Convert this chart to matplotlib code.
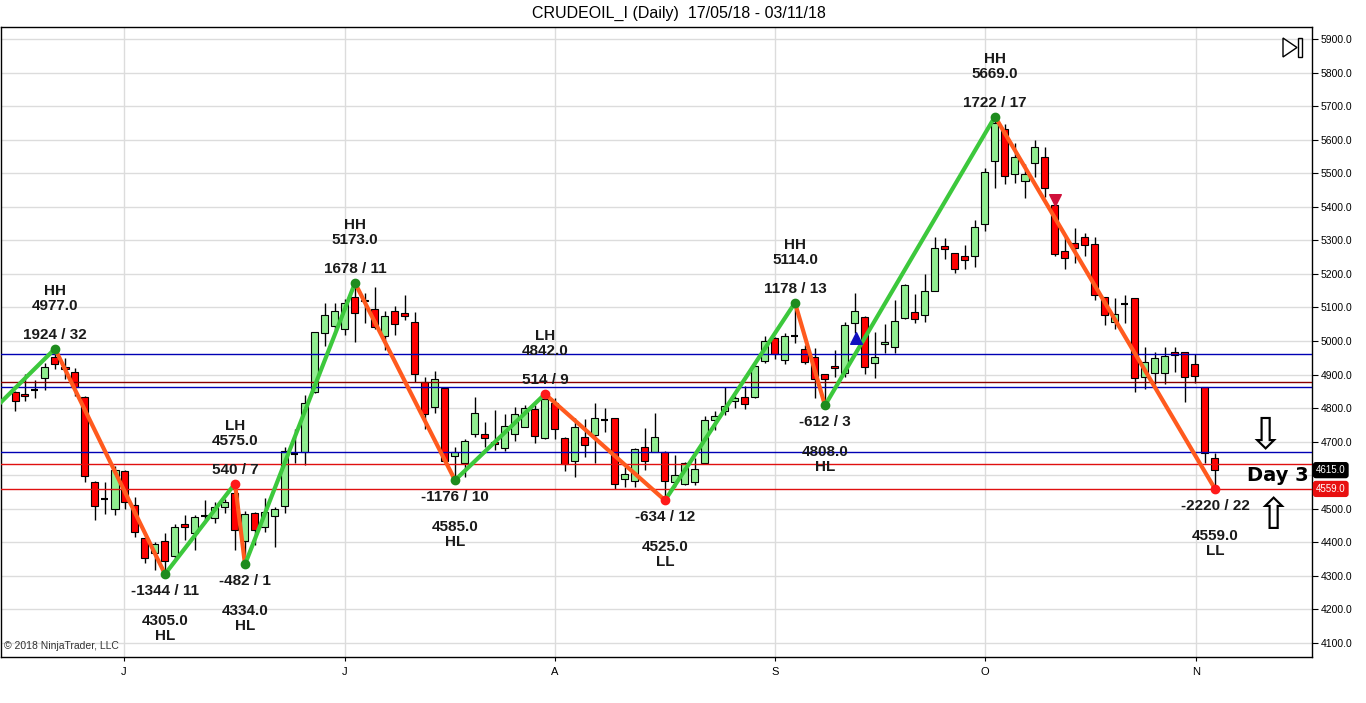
import numpy as np
import matplotlib
matplotlib.use("Agg")
import matplotlib.pyplot as plt
from matplotlib.patches import Polygon, Rectangle

plt.rcParams['font.family'] = ['Liberation Sans', 'DejaVu Sans']

# daily OHLC, bar 0 = first bar on screen
opens = [4847, 4841, 4855, 4891, 4951, 4922, 4907, 4832, 4581, 4528,
         4499, 4612, 4510, 4412, 4369, 4404, 4360, 4455, 4427, 4478,
         4472, 4504, 4546, 4405, 4488, 4447, 4479, 4508, 4662, 4670,
         4847, 5023, 5046, 5037, 5132, 5120, 5095, 5014, 5090, 5083,
         5058, 4877, 4804, 4861, 4657, 4636, 4722, 4722, 4698, 4680,
         4722, 4745, 4796, 4711, 4816, 4712, 4643, 4713, 4719, 4763,
         4769, 4588, 4584, 4683, 4670, 4670, 4581, 4574, 4581, 4636,
         4765, 4792, 4820, 4832, 4834, 4940, 5010, 4943, 5015, 4975,
         4951, 4901, 4926, 4906, 5053, 5073, 4933, 4990, 4983, 5068,
         5086, 5077, 5150, 5284, 5261, 5253, 5253, 5348, 5537, 5631,
         5498, 5477, 5530, 5547, 5405, 5269, 5291, 5311, 5288, 5130,
         5058, 5110, 5127, 4892, 4906, 4904, 4966, 4966, 4932, 4862,
         4650]
highs = [4850, 4901, 4884, 4934, 4977, 4948, 4919, 4835, 4583, 4579,
         4628, 4616, 4534, 4414, 4400, 4429, 4455, 4482, 4482, 4526,
         4520, 4530, 4575, 4494, 4490, 4531, 4504, 4685, 4737, 4839,
         4850, 5112, 5112, 5124, 5173, 5144, 5162, 5089, 5103, 5137,
         5087, 4894, 4912, 4863, 4685, 4707, 4834, 4760, 4794, 4782,
         4803, 4810, 4810, 4842, 4830, 4714, 4770, 4767, 4814, 4800,
         4771, 4625, 4680, 4740, 4785, 4672, 4660, 4640, 4652, 4777,
         4792, 4862, 4835, 4866, 4928, 5015, 5012, 5023, 5114, 4988,
         4978, 4903, 4973, 5058, 5144, 5075, 5028, 5051, 5122, 5170,
         5139, 5200, 5309, 5306, 5263, 5286, 5361, 5515, 5669, 5647,
         5591, 5527, 5599, 5577, 5410, 5316, 5336, 5321, 5311, 5132,
         5127, 5137, 5129, 4981, 4968, 4981, 4981, 4968, 4961, 4864,
         4667]
lows = [4792, 4822, 4829, 4854, 4916, 4886, 4836, 4581, 4465, 4485,
        4482, 4499, 4417, 4339, 4316, 4305, 4350, 4407, 4377, 4457,
        4457, 4488, 4377, 4334, 4392, 4432, 4387, 4488, 4637, 4630,
        4845, 4985, 5033, 5018, 4998, 5053, 5035, 4973, 5018, 5063,
        4879, 4738, 4785, 4640, 4585, 4596, 4715, 4685, 4675, 4672,
        4703, 4744, 4697, 4709, 4707, 4611, 4594, 4655, 4636, 4730,
        4558, 4566, 4566, 4616, 4668, 4525, 4566, 4570, 4571, 4634,
        4735, 4780, 4800, 4797, 4831, 4933, 4945, 4931, 4993, 4931,
        4829, 4808, 4894, 4892, 5023, 4902, 4889, 4965, 4963, 5066,
        5055, 5058, 5148, 5244, 5202, 5214, 5221, 5328, 5457, 5468,
        5470, 5425, 5490, 5430, 5253, 5214, 5233, 5253, 5122, 5048,
        5036, 5055, 4849, 4856, 4872, 4872, 4909, 4819, 4874, 4636,
        4559]
closes = [4822, 4836, 4855, 4922, 4931, 4916, 4864, 4599, 4509, 4528,
          4614, 4519, 4430, 4353, 4395, 4344, 4445, 4447, 4475, 4478,
          4506, 4519, 4437, 4484, 4437, 4490, 4498, 4673, 4662, 4816,
          5028, 5077, 5089, 5112, 5083, 5123, 5041, 5075, 5051, 5075,
          4902, 4783, 4886, 4642, 4670, 4702, 4785, 4711, 4692, 4747,
          4782, 4801, 4717, 4826, 4738, 4632, 4745, 4689, 4770, 4763,
          4574, 4604, 4677, 4643, 4714, 4584, 4600, 4636, 4618, 4765,
          4777, 4806, 4830, 4812, 4926, 5001, 4961, 5015, 5015, 4938,
          4886, 4886, 4920, 5047, 5089, 4922, 4951, 4996, 5060, 5167,
          5065, 5148, 5276, 5273, 5214, 5240, 5339, 5503, 5649, 5492,
          5547, 5498, 5577, 5455, 5259, 5246, 5276, 5286, 5137, 5078,
          5080, 5110, 4889, 4938, 4948, 4955, 4958, 4892, 4896, 4665,
          4615]

# zigzag swing points (first one is where the line enters from off-screen)
zz_bar = [-2, 4, 15, 22, 23, 34, 44, 53, 65, 78, 81, 98, 120]
zz_price = [4800, 4977, 4305, 4575, 4334, 5173, 4585, 4842, 4525, 5114, 4808, 5669, 4559]
zz_swing = ["1924 / 32", "-1344 / 11", "540 / 7", "-482 / 1", "1678 / 11", "-1176 / 10",
            "514 / 9", "-634 / 12", "1178 / 13", "-612 / 3", "1722 / 17", "-2220 / 22"]
zz_type = ["HH", "HL", "LH", "HL", "HH", "HL", "LH", "LL", "HH", "HL", "HH", "LL"]

# horizontal levels
blue_levels = [4961, 4862, 4668]
maroon_levels = [4877]
red_levels = [4633, 4559]

month_pos = [10.9, 33, 54, 76, 97, 118.1]
month_lbl = ["J", "J", "A", "S", "O", "N"]
y_ticks = np.arange(4100, 5901, 100)
# 4600 label sits behind the price tags
y_lbls = ["" if v == 4600 else "%.1f" % v for v in y_ticks]

o = np.array(opens)
h = np.array(highs)
l = np.array(lows)
c = np.array(closes)
idx = np.arange(len(o))

fig = plt.figure(figsize=(13.66, 7.03), dpi=100)
ax = fig.add_axes([1 / 1366, 46 / 703, 1311 / 1366, 630 / 703])
ax.set_xlim(-1.4, 129.7)
ax.set_ylim(4058, 5936)

# grid
for v in y_ticks:
    ax.axhline(v, color='#dcdcdc', lw=1, zorder=0)
for p in month_pos:
    ax.axvline(p, color='#dcdcdc', lw=1, zorder=0)

# candles
ax.vlines(idx, l, h, color='black', lw=1, zorder=2)
up = c > o
dn = c < o
ax.bar(idx[up], (c - o)[up], bottom=o[up], width=0.7, color='#90ee90',
       edgecolor='black', lw=0.8, zorder=3)
ax.bar(idx[dn], (o - c)[dn], bottom=c[dn], width=0.7, color='#ff0000',
       edgecolor='black', lw=0.8, zorder=3)
flat = c == o
ax.hlines(o[flat], idx[flat] - 0.35, idx[flat] + 0.35, color='black', lw=1.5, zorder=3)

# level lines
for v in blue_levels:
    ax.axhline(v, color='#0000b4', lw=1, zorder=4)
for v in maroon_levels:
    ax.axhline(v, color='#8b0000', lw=1, zorder=4)
for v in red_levels:
    ax.axhline(v, color='#e01010', lw=1, zorder=4)

# zigzag
for k in range(len(zz_bar) - 1):
    col = '#3cc83c' if zz_price[k + 1] > zz_price[k] else '#ff5a1e'
    ax.plot(zz_bar[k:k + 2], zz_price[k:k + 2], color=col, lw=3, zorder=5,
            solid_capstyle='round')

for k in range(1, len(zz_bar)):
    t = zz_type[k - 1]
    dot = '#1e8c1e' if t in ("HH", "HL") else '#ff1a1a'
    ax.scatter(zz_bar[k], zz_price[k], s=36, color=dot, zorder=6)
    is_high = zz_price[k] > zz_price[k - 1]
    kw = dict(xycoords='data', textcoords='offset pixels', ha='center', va='center',
              fontsize=11, fontweight='bold', color='#1a1a1a', zorder=7)
    pos = (zz_bar[k], zz_price[k])
    if is_high:
        ax.annotate(zz_swing[k - 1], pos, xytext=(0, 14), **kw)
        ax.annotate("%.1f" % zz_price[k], pos, xytext=(0, 43), **kw)
        ax.annotate(t, pos, xytext=(0, 58), **kw)
    else:
        ax.annotate(zz_swing[k - 1], pos, xytext=(0, -17), **kw)
        ax.annotate("%.1f" % zz_price[k], pos, xytext=(0, -47), **kw)
        ax.annotate(t, pos, xytext=(0, -62), **kw)

# signal markers
ax.scatter([84.1], [5008], marker='^', s=70, color='#1010c0', zorder=6)
ax.scatter([104], [5420], marker='v', s=70, color='#d0103a', zorder=6)

# axes styling
ax.yaxis.tick_right()
ax.set_yticks(y_ticks)
ax.set_yticklabels(y_lbls, fontsize=7.5)
ax.set_xticks(month_pos)
ax.set_xticklabels(month_lbl, fontsize=8)
ax.tick_params(axis='y', length=4, pad=2, colors='black')
ax.tick_params(axis='x', length=3, pad=4)
for s in ax.spines.values():
    s.set_color('black')
    s.set_linewidth(1)

# price tags
ax.text(1.003, closes[-1], "%.1f" % closes[-1], transform=ax.get_yaxis_transform(),
        fontsize=7, color='white', va='center', ha='left', zorder=8, clip_on=False,
        bbox=dict(boxstyle='round,pad=0.25', fc='black', ec='black'))
ax.text(1.003, zz_price[-1], "%.1f" % zz_price[-1], transform=ax.get_yaxis_transform(),
        fontsize=7, color='white', va='center', ha='left', zorder=8, clip_on=False,
        bbox=dict(boxstyle='round,pad=0.25', fc='#e81010', ec='#e81010'))

# day count note with arrows
ax.text(126.3, 4598, "Day 3", fontsize=14, fontweight='bold', family='DejaVu Sans',
        ha='center', va='center', zorder=8)
ax.text(125.0, 4718, "\u21e9", fontsize=32, family='DejaVu Sans', ha='center', va='center', zorder=8)
ax.text(125.8, 4478, "\u21e7", fontsize=32, family='DejaVu Sans', ha='center', va='center', zorder=8)

ax.text(0.002, 0.01, "\u00a9 2018 NinjaTrader, LLC", transform=ax.transAxes,
        fontsize=7.5, color='#333333', ha='left', va='bottom')

# title
fig.text(679 / 1366, 1 - 13 / 703, "CRUDEOIL_I (Daily)  17/05/18 - 03/11/18",
         fontsize=11.5, ha='center', va='center')

# little play-to-end icon in the top-right corner
tri = Polygon([[1283 / 1366, 1 - 38 / 703], [1283 / 1366, 1 - 57 / 703], [1297 / 1366, 1 - 47.5 / 703]],
              closed=True, fill=False, ec='black', lw=1, transform=fig.transFigure)
bar = Rectangle((1298 / 1366, 1 - 57 / 703), 4 / 1366, 19 / 703, fill=False, ec='black', lw=1,
                transform=fig.transFigure)
fig.patches.extend([tri, bar])

fig.savefig("out.png", dpi=100)
